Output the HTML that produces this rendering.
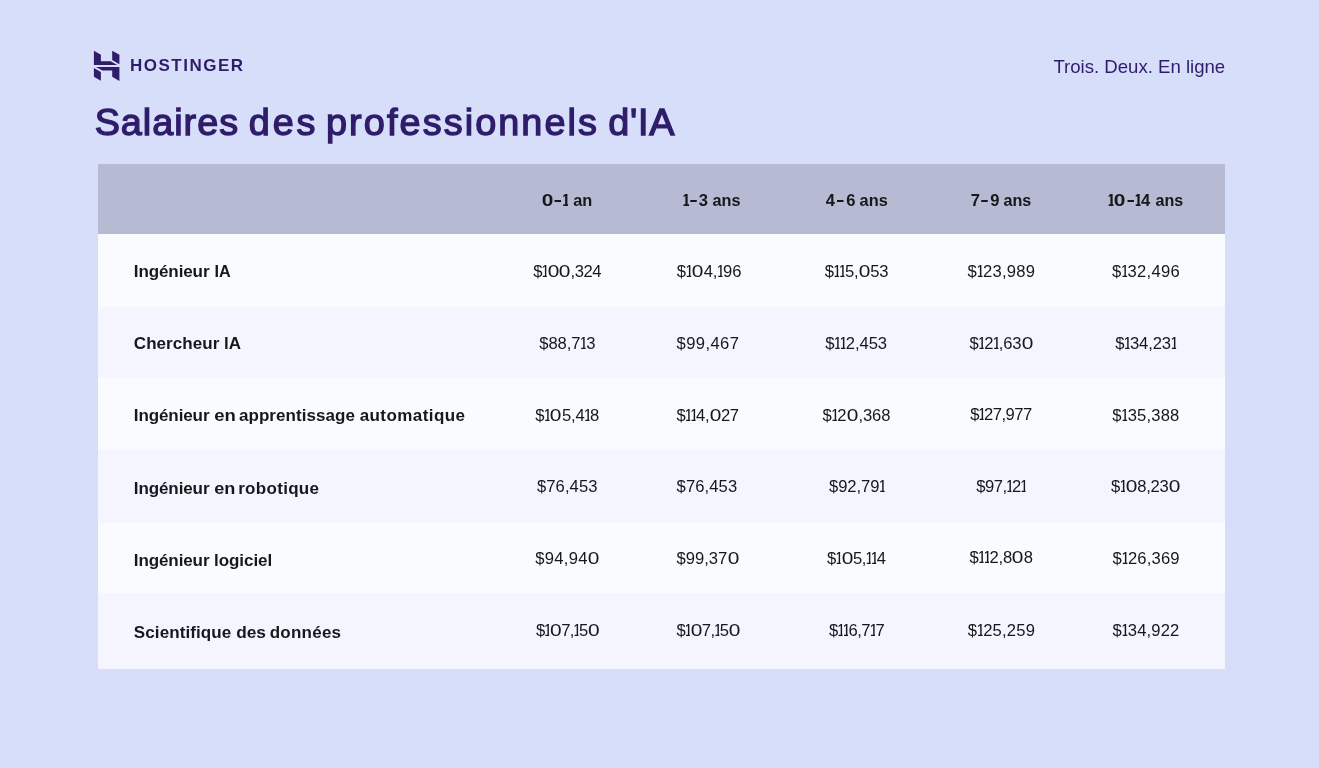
<!DOCTYPE html>
<html lang="fr"><head><meta charset="utf-8"><title>Salaires des professionnels d'IA</title>
<style>
html,body{margin:0;padding:0;}
body{width:1319px;height:768px;background:#d6defa;overflow:hidden;position:relative;font-family:"Liberation Sans",sans-serif;color:#17181a;}
.t{position:absolute;white-space:nowrap;margin:0;padding:0;font-weight:400;will-change:transform;}
.b{font-weight:700;}
.p{color:#2f1c6a;}
.t span{display:inline-block;transform-origin:0 0;}
.t b{display:inline-block;transform:translateY(-.09em) scaleX(1.55);margin:0 .08em;}
.t u{text-decoration:none;display:inline-block;transform:scaleX(1.26);margin:0 .085em;}
.t i{font-style:normal;display:inline-block;margin:0 -.13em 0 -.08em;clip-path:inset(0 .16em 0 .13em);}
.blk{position:absolute;left:98px;width:1127px;}
svg{position:absolute;left:0;top:0;}
</style></head><body>
<div class="blk" style="top:164px;height:70px;background:#b6bad3;"></div>
<div class="blk" style="top:234px;height:73px;background:#fafbff;"></div>
<div class="blk" style="top:307px;height:71px;background:#f4f5fe;"></div>
<div class="blk" style="top:378px;height:72px;background:#fafbff;"></div>
<div class="blk" style="top:450px;height:73px;background:#f4f5fe;"></div>
<div class="blk" style="top:523px;height:70px;background:#fafbff;"></div>
<div class="blk" style="top:593px;height:76px;background:#f4f5fe;"></div>
<svg width="1319" height="768" viewBox="0 0 1319 768"><g fill="#2f1c6a">
<path d="M93.9 50.8 L100.9 54.8 L100.9 61.2 L110.6 61.2 L117.3 64.95 L93.9 64.95 Z"/>
<path d="M112.2 50.8 L119.4 54.8 L119.4 64.2 L112.2 60.0 Z"/>
<path d="M96.0 66.9 L119.4 66.9 L119.4 81.0 L112.2 76.8 L112.2 70.6 L102.3 70.6 Z"/>
<path d="M93.9 68.0 L100.9 72.0 L100.9 80.8 L93.9 76.8 Z"/>
</g></svg>
<div class="t p b" id="logo" style="left:128px;padding-left:1.89px;top:56px;font-size:17px;line-height:19px;letter-spacing:1.52px;">HOSTINGER</div>
<div class="t p" id="tag" style="left:1052px;padding-left:1.46px;top:56px;font-size:18.6px;line-height:21px;letter-spacing:-0.01px;">Trois. Deux. En ligne</div>
<div class="t p" id="title0" style="left:93px;padding-left:1.64px;top:101px;font-size:37.8px;line-height:42px;letter-spacing:0.99px;-webkit-text-stroke:1.35px;">Salaires</div>
<div class="t p" id="title1" style="left:247px;padding-left:1.85px;top:101px;font-size:37.8px;line-height:42px;letter-spacing:2.78px;-webkit-text-stroke:1.35px;">des</div>
<div class="t p" id="title2" style="left:324px;padding-left:1.99px;top:101px;font-size:37.8px;line-height:42px;letter-spacing:2.1px;-webkit-text-stroke:1.35px;">professionnels</div>
<div class="t p" id="title3" style="left:607px;padding-left:1.31px;top:101px;font-size:37.8px;line-height:42px;letter-spacing:0.75px;-webkit-text-stroke:1.35px;">d'IA</div>
<div class="t b" id="h0w0" style="left:540px;padding-left:1.78px;top:191px;font-size:16.6px;line-height:19px;letter-spacing:0.24px;"><u>0</u><b>-</b><i>1</i></div>
<div class="t b" id="h0w1" style="left:572px;top:191px;font-size:16.6px;line-height:19px;"><span style="transform:translateX(1.26px) scaleX(0.9843)">an</span></div>
<div class="t b" id="h1w0" style="left:681px;padding-left:1.76px;top:191px;font-size:16.6px;line-height:19px;letter-spacing:1.07px;"><i>1</i><b>-</b>3</div>
<div class="t b" id="h1w1" style="left:711px;top:191px;font-size:16.6px;line-height:19px;"><span style="transform:translateX(1.48px) scaleX(0.9763)">ans</span></div>
<div class="t b" id="h2w0" style="left:824px;padding-left:1.86px;top:191px;font-size:16.6px;line-height:19px;letter-spacing:1.43px;">4<b>-</b>6</div>
<div class="t b" id="h2w1" style="left:858px;top:191px;font-size:16.6px;line-height:19px;"><span style="transform:translateX(1.58px) scaleX(0.9850)">ans</span></div>
<div class="t b" id="h3w0" style="left:969px;padding-left:1.72px;top:191px;font-size:16.6px;line-height:19px;letter-spacing:1.03px;">7<b>-</b>9</div>
<div class="t b" id="h3w1" style="left:1002px;top:191px;font-size:16.6px;line-height:19px;"><span style="transform:translateX(1.5px) scaleX(0.9718)">ans</span></div>
<div class="t b" id="h4w0" style="left:1106px;padding-left:1.87px;top:191px;font-size:16.6px;line-height:19px;letter-spacing:0.36px;"><i>1</i><u>0</u><b>-</b><i>1</i>4</div>
<div class="t b" id="h4w1" style="left:1154px;top:191px;font-size:16.6px;line-height:19px;"><span style="transform:translateX(1.51px) scaleX(0.9673)">ans</span></div>
<div class="t b" id="l0w0" style="left:132px;padding-left:1.8px;top:262px;font-size:17px;line-height:19px;letter-spacing:-0.1px;">Ingénieur</div>
<div class="t b" id="l0w1" style="left:213px;top:262px;font-size:17px;line-height:19px;"><span style="transform:translateX(1.38px) scaleX(0.9549)">IA</span></div>
<div class="t b" id="l1w0" style="left:132px;padding-left:1.82px;top:334px;font-size:17px;line-height:19px;letter-spacing:0.06px;">Chercheur</div>
<div class="t b" id="l1w1" style="left:223px;top:334px;font-size:17px;line-height:19px;"><span style="transform:translateX(1.06px) scaleX(0.9987)">lA</span></div>
<div class="t b" id="l2w0" style="left:132px;padding-left:1.8px;top:406px;font-size:17px;line-height:19px;letter-spacing:-0.1px;">Ingénieur</div>
<div class="t b" id="l2w1" style="left:213px;top:406px;font-size:17px;line-height:19px;"><span style="transform:translateX(1.21px) scaleX(1.0891)">en</span></div>
<div class="t b" id="l2w2" style="left:237px;padding-left:1.93px;top:406px;font-size:17px;line-height:19px;letter-spacing:0.07px;">apprentissage</div>
<div class="t b" id="l2w3" style="left:358px;padding-left:1.64px;top:406px;font-size:17px;line-height:19px;letter-spacing:0.43px;">automatique</div>
<div class="t b" id="l3w0" style="left:132px;padding-left:1.8px;top:479px;font-size:17px;line-height:19px;letter-spacing:-0.1px;">Ingénieur</div>
<div class="t b" id="l3w1" style="left:213px;top:479px;font-size:17px;line-height:19px;"><span style="transform:translateX(1.22px) scaleX(1.0675)">en</span></div>
<div class="t b" id="l3w2" style="left:237px;padding-left:1.17px;top:479px;font-size:17px;line-height:19px;letter-spacing:0.31px;">robotique</div>
<div class="t b" id="l4w0" style="left:132px;padding-left:1.8px;top:551px;font-size:17px;line-height:19px;letter-spacing:-0.1px;">Ingénieur</div>
<div class="t b" id="l4w1" style="left:213px;padding-left:1.03px;top:551px;font-size:17px;line-height:19px;letter-spacing:-0.06px;">logiciel</div>
<div class="t b" id="l5w0" style="left:132px;padding-left:1.84px;top:623px;font-size:17px;line-height:19px;letter-spacing:0.1px;">Scientifique</div>
<div class="t b" id="l5w1" style="left:235px;top:623px;font-size:17px;line-height:19px;"><span style="transform:translateX(1.15px) scaleX(1.0180)">des</span></div>
<div class="t b" id="l5w2" style="left:268px;padding-left:1.76px;top:623px;font-size:17px;line-height:19px;letter-spacing:0.23px;">données</div>
<div class="t " id="v0_0" style="left:532px;padding-left:1.13px;top:262px;font-size:16.6px;line-height:19px;letter-spacing:-0.43px;">$<i>1</i><u>0</u><u>0</u>,324</div>
<div class="t " id="v0_1" style="left:675px;padding-left:1.81px;top:262px;font-size:16.6px;line-height:19px;letter-spacing:-0.07px;">$<i>1</i><u>0</u>4,<i>1</i>96</div>
<div class="t " id="v0_2" style="left:823px;padding-left:1.8px;top:262px;font-size:16.6px;line-height:19px;letter-spacing:-0.19px;">$<i>1</i><i>1</i>5,<u>0</u>53</div>
<div class="t " id="v0_3" style="left:966px;padding-left:1.56px;top:262px;font-size:16.6px;line-height:19px;letter-spacing:0.23px;">$<i>1</i>23,989</div>
<div class="t " id="v0_4" style="left:1111px;padding-left:1px;top:262px;font-size:16.6px;line-height:19px;letter-spacing:0.28px;">$<i>1</i>32,496</div>
<div class="t " id="v1_0" style="left:538px;padding-left:1.24px;top:334px;font-size:16.6px;line-height:19px;letter-spacing:-0.07px;">$88,7<i>1</i>3</div>
<div class="t " id="v1_1" style="left:675px;padding-left:1.55px;top:334px;font-size:16.6px;line-height:19px;letter-spacing:0.41px;">$99,467</div>
<div class="t " id="v1_2" style="left:824px;padding-left:1.26px;top:334px;font-size:16.6px;line-height:19px;letter-spacing:-0.07px;">$<i>1</i><i>1</i>2,453</div>
<div class="t " id="v1_3" style="left:968px;padding-left:1.56px;top:334px;font-size:16.6px;line-height:19px;letter-spacing:-0.17px;">$<i>1</i>2<i>1</i>,63<u>0</u></div>
<div class="t " id="v1_4" style="left:1114px;padding-left:1.18px;top:334px;font-size:16.6px;line-height:19px;letter-spacing:-0.11px;">$<i>1</i>34,23<i>1</i></div>
<div class="t " id="v2_0" style="left:534px;padding-left:1.31px;top:406px;font-size:16.6px;line-height:19px;letter-spacing:-0.16px;">$<i>1</i><u>0</u>5,4<i>1</i>8</div>
<div class="t " id="v2_1" style="left:675px;padding-left:1.43px;top:406px;font-size:16.6px;line-height:19px;letter-spacing:-0.36px;">$<i>1</i><i>1</i>4,<u>0</u>27</div>
<div class="t " id="v2_2" style="left:821px;padding-left:1.56px;top:406px;font-size:16.6px;line-height:19px;letter-spacing:-0.09px;">$<i>1</i>2<u>0</u>,368</div>
<div class="t " id="v2_3" style="left:969px;padding-left:1.13px;top:405px;font-size:16.6px;line-height:19px;letter-spacing:-0.53px;">$<i>1</i>27,977</div>
<div class="t " id="v2_4" style="left:1111px;padding-left:1.25px;top:406px;font-size:16.6px;line-height:19px;letter-spacing:0.19px;">$<i>1</i>35,388</div>
<div class="t " id="v3_0" style="left:535px;padding-left:1.91px;top:477px;font-size:16.6px;line-height:19px;letter-spacing:0.1px;">$76,453</div>
<div class="t " id="v3_1" style="left:675px;padding-left:1.55px;top:477px;font-size:16.6px;line-height:19px;letter-spacing:0.11px;">$76,453</div>
<div class="t " id="v3_2" style="left:828px;padding-left:1.04px;top:477px;font-size:16.6px;line-height:19px;letter-spacing:-0.07px;">$92,79<i>1</i></div>
<div class="t " id="v3_3" style="left:975px;padding-left:1.18px;top:477px;font-size:16.6px;line-height:19px;letter-spacing:-0.46px;">$97,<i>1</i>2<i>1</i></div>
<div class="t " id="v3_4" style="left:1110px;padding-left:1.11px;top:477px;font-size:16.6px;line-height:19px;letter-spacing:-0.28px;">$<i>1</i><u>0</u>8,23<u>0</u></div>
<div class="t " id="v4_0" style="left:534px;padding-left:1.24px;top:549px;font-size:16.6px;line-height:19px;letter-spacing:0.29px;">$94,94<u>0</u></div>
<div class="t " id="v4_1" style="left:675px;padding-left:1.43px;top:549px;font-size:16.6px;line-height:19px;letter-spacing:0.03px;">$99,37<u>0</u></div>
<div class="t " id="v4_2" style="left:826px;padding-left:1.03px;top:549px;font-size:16.6px;line-height:19px;letter-spacing:-0.4px;">$<i>1</i><u>0</u>5,<i>1</i><i>1</i>4</div>
<div class="t " id="v4_3" style="left:968px;padding-left:1.5px;top:548px;font-size:16.6px;line-height:19px;letter-spacing:-0.22px;">$<i>1</i><i>1</i>2,8<u>0</u>8</div>
<div class="t " id="v4_4" style="left:1111px;padding-left:1.52px;top:549px;font-size:16.6px;line-height:19px;letter-spacing:0.18px;">$<i>1</i>26,369</div>
<div class="t " id="v5_0" style="left:534px;padding-left:1.88px;top:621px;font-size:16.6px;line-height:19px;letter-spacing:-0.6px;">$<i>1</i><u>0</u>7,<i>1</i>5<u>0</u></div>
<div class="t " id="v5_1" style="left:675px;padding-left:1.49px;top:621px;font-size:16.6px;line-height:19px;letter-spacing:-0.56px;">$<i>1</i><u>0</u>7,<i>1</i>5<u>0</u></div>
<div class="t " id="v5_2" style="left:827px;padding-left:1.89px;top:621px;font-size:16.6px;line-height:19px;letter-spacing:-0.42px;">$<i>1</i><i>1</i>6,7<i>1</i>7</div>
<div class="t " id="v5_3" style="left:966px;padding-left:1.8px;top:621px;font-size:16.6px;line-height:19px;letter-spacing:0.19px;">$<i>1</i>25,259</div>
<div class="t " id="v5_4" style="left:1111px;padding-left:1.52px;top:621px;font-size:16.6px;line-height:19px;letter-spacing:0.14px;">$<i>1</i>34,922</div>
</body></html>
